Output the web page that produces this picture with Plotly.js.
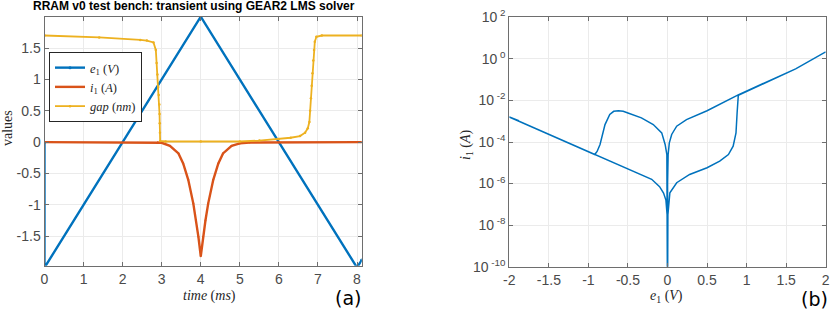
<!DOCTYPE html>
<html>
<head>
<meta charset="utf-8">
<script src="https://cdn.plot.ly/plotly-3.0.1.min.js"></script>
<style>html,body{margin:0;padding:0;background:#fff;}#plot{width:830px;height:309px;}</style>
</head>
<body>
<div id="plot"></div>
<script>
// ---- (a) transient: time in ms ----
const tE1 = [0, 0, 4, 8, 8.12];
const e1 = [0, -2, 2, -2, -1.88];

const tI1 = [0, 2.9, 3.0, 3.21, 3.43, 3.55, 3.68, 3.81, 3.88, 3.94, 4.0, 4.06, 4.12, 4.19, 4.32, 4.45, 4.57, 4.79, 5.0, 5.25, 8.12];
const i1 = [0, 0, -0.01, -0.06, -0.18, -0.34, -0.6, -0.98, -1.25, -1.51, -1.82, -1.51, -1.25, -0.98, -0.6, -0.34, -0.18, -0.06, -0.02, -0.005, 0];

const tGap = [0, 1.4, 2.45, 2.62, 2.79, 2.85, 2.87, 2.89, 2.91, 2.925, 2.94, 2.945, 2.95, 2.955, 2.96, 3.1, 4.0, 5.0, 5.5, 6.0, 6.3, 6.54, 6.67, 6.74, 6.78, 6.8, 6.82, 6.84, 6.86, 6.88, 6.9, 6.92, 6.96, 7.1, 8.12];
const gap = [1.70, 1.67, 1.63, 1.62, 1.59, 1.47, 1.26, 1.08, 0.88, 0.75, 0.6, 0.45, 0.3, 0.15, 0.02, 0.01, 0.01, 0.01, 0.025, 0.05, 0.07, 0.097, 0.15, 0.22, 0.32, 0.5, 0.7, 0.9, 1.1, 1.3, 1.47, 1.6, 1.68, 1.70, 1.70];

// ---- (b) |i1| vs e1 ----
const e1IV = [-2.0, -0.92, -0.37, -0.2, -0.1, -0.05, -0.02, -0.005, 0,
  0.005, 0.03, 0.116, 0.28, 0.5, 0.66, 0.77, 0.83, 0.866, 0.88, 0.895, 1.62, 2.0,
  1.62, 0.9, 0.5, 0.24, 0.116, 0.053, 0.023, 0.008, 0.001, 0,
  -0.001, -0.008, -0.03, -0.073, -0.18, -0.33, -0.5, -0.56, -0.62, -0.68, -0.73, -0.79, -0.853, -0.89, -0.92, -2.0, -1.88];
const i1IV = [1.6e-3, 2.5e-5, 3.2e-6, 1.6e-6, 7.1e-7, 3.5e-7, 1.6e-7, 3.2e-8, 1e-12,
  3.2e-8, 3.6e-7, 1.1e-6, 2.75e-6, 5.75e-6, 1.2e-5, 2.5e-5, 6.3e-5, 2.75e-4, 2.5e-3, 1.74e-2, 0.33, 2.19,
  0.33, 1.9e-2, 3.2e-3, 1.2e-3, 5.75e-4, 2.3e-4, 9.1e-5, 2.5e-5, 1e-6, 1e-12,
  1e-6, 2.5e-5, 7.6e-5, 2.75e-4, 6.9e-4, 1.45e-3, 2.5e-3, 3.0e-3, 3.2e-3, 3.0e-3, 2.1e-3, 6.9e-4, 7.6e-5, 3.5e-5, 2.5e-5, 1.6e-3, 1.05e-3];

// ---- tick labels ----
const xTicksA = [0, 1, 2, 3, 4, 5, 6, 7, 8];
const xTickTextA = ['0', '1', '2', '3', '4', '5', '6', '7', '8'];
const yTicksA = [-1.5, -1, -0.5, 0, 0.5, 1, 1.5];
const yTickTextA = ['-1.5', '-1', '-0.5', '0', '0.5', '1', '1.5'];
const xTicksB = [-2, -1.5, -1, -0.5, 0, 0.5, 1, 1.5, 2];
const xTickTextB = ['-2', '-1.5', '-1', '-0.5', '0', '0.5', '1', '1.5', '2'];
const yTicksB = [1e-10, 1e-8, 1e-6, 1e-4, 1e-2, 1e0, 1e2];
const yTickTextB = ['10<sup> -10</sup>', '10<sup> -8</sup>', '10<sup> -6</sup>', '10<sup> -4</sup>', '10<sup> -2</sup>', '10<sup> 0</sup>', '10<sup> 2</sup>'];

const BLUE = '#0072BD', ORANGE = '#D95319', YELLOW = '#EDB120';
const W = 830, H = 309;
const px = v => v / W;
const py = v => 1 - v / H;

const traces = [
  {x: tE1, y: e1, name: '<i>e</i><sub>1</sub> (<i>V</i>)', mode: 'lines+markers',
   line: {color: BLUE, width: 2.4}, marker: {color: BLUE, size: 3}, xaxis: 'x', yaxis: 'y'},
  {x: tI1, y: i1, name: '<i>i</i><sub>1</sub> (<i>A</i>)', mode: 'lines+markers',
   line: {color: ORANGE, width: 2.4}, marker: {color: ORANGE, size: 2}, xaxis: 'x', yaxis: 'y'},
  {x: tGap, y: gap, name: '<i>gap</i> (<i>nm</i>)', mode: 'lines+markers',
   line: {color: YELLOW, width: 1.8}, marker: {color: YELLOW, size: 2.5}, xaxis: 'x', yaxis: 'y'},
  {x: e1IV, y: i1IV, mode: 'lines', showlegend: false,
   line: {color: BLUE, width: 1.5}, xaxis: 'x2', yaxis: 'y2'}
];

const axCommon = {
  showline: true, linecolor: '#6e6e6e', linewidth: 1, mirror: 'ticks',
  ticks: 'inside', ticklen: 4, tickcolor: '#6e6e6e', tickwidth: 1,
  showgrid: true, gridcolor: '#ebebeb', gridwidth: 1, zeroline: false,
  tickfont: {family: 'Liberation Sans, Arial, sans-serif', size: 14, color: '#4a4a4a'},
  tickmode: 'array'
};

const annFont = {family: 'Liberation Serif, serif', size: 14, color: '#262626'};

const layout = {
  width: W, height: H,
  margin: {l: 0, r: 0, t: 0, b: 0},
  paper_bgcolor: '#ffffff', plot_bgcolor: '#ffffff',
  showlegend: true,
  legend: {x: px(49), y: py(52), xanchor: 'left', yanchor: 'top',
    bgcolor: '#ffffff', bordercolor: '#262626', borderwidth: 1,
    font: {family: 'Liberation Serif, serif', size: 12.5, color: '#262626'}},
  xaxis: Object.assign({}, axCommon, {domain: [px(44.5), px(361.7)], range: [0, 8.12],
    tickvals: xTicksA, ticktext: xTickTextA, anchor: 'y'}),
  yaxis: Object.assign({}, axCommon, {domain: [py(265.7), py(16.7)], range: [-1.97, 2.0],
    tickvals: yTicksA, ticktext: yTickTextA, anchor: 'x'}),
  xaxis2: Object.assign({}, axCommon, {domain: [px(509.3), px(825.7)], range: [-2, 2],
    tickvals: xTicksB, ticktext: xTickTextB, anchor: 'y2'}),
  yaxis2: Object.assign({}, axCommon, {domain: [py(266.7), py(17.3)], type: 'log', range: [-10, 2],
    tickvals: yTicksB, ticktext: yTickTextB, anchor: 'x2'}),
  annotations: [
    {text: '<b>RRAM v0 test bench: transient using GEAR2 LMS solver</b>', xref: 'paper', yref: 'paper',
     x: px(194), y: py(6), xanchor: 'center', yanchor: 'middle', showarrow: false,
     font: {family: 'Liberation Sans, Arial, sans-serif', size: 12, color: '#000000'}},
    {text: '<i>time</i> (<i>ms</i>)', xref: 'paper', yref: 'paper', x: px(210), y: py(295.5),
     xanchor: 'center', yanchor: 'middle', showarrow: false, font: annFont},
    {text: 'values', xref: 'paper', yref: 'paper', x: px(8), y: py(128), textangle: -90,
     xanchor: 'center', yanchor: 'middle', showarrow: false, font: annFont},
    {text: '<i>i</i><sub>1</sub> (<i>A</i>)', xref: 'paper', yref: 'paper', x: px(466), y: py(145), textangle: -90,
     xanchor: 'center', yanchor: 'middle', showarrow: false, font: annFont},
    {text: '<i>e</i><sub>1</sub> (<i>V</i>)', xref: 'paper', yref: 'paper', x: px(666), y: py(296),
     xanchor: 'center', yanchor: 'middle', showarrow: false, font: annFont},
    {text: '(a)', xref: 'paper', yref: 'paper', x: px(348), y: py(298),
     xanchor: 'center', yanchor: 'middle', showarrow: false,
     font: {family: 'DejaVu Sans, sans-serif', size: 19, color: '#000000'}},
    {text: '(b)', xref: 'paper', yref: 'paper', x: px(814), y: py(299),
     xanchor: 'center', yanchor: 'middle', showarrow: false,
     font: {family: 'DejaVu Sans, sans-serif', size: 19, color: '#000000'}}
  ]
};

Plotly.newPlot('plot', traces, layout, {staticPlot: true, displayModeBar: false});
</script>
</body>
</html>
